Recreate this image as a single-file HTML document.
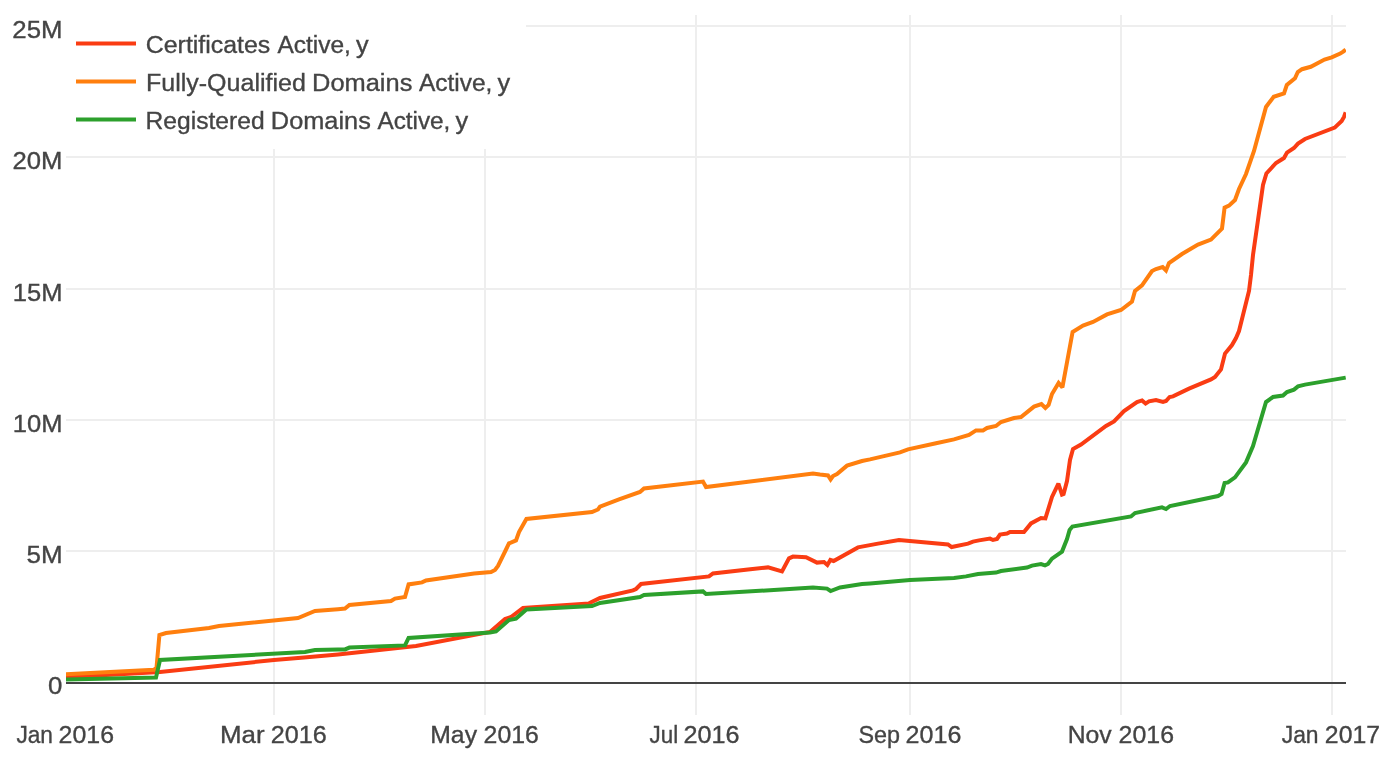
<!DOCTYPE html>
<html><head><meta charset="utf-8"><title>Let's Encrypt growth</title>
<style>html,body{margin:0;padding:0;background:#fff}svg{display:block}</style></head>
<body>
<svg width="1391" height="777" viewBox="0 0 1391 777">
<defs><clipPath id="plot"><rect x="66" y="15" width="1280" height="700"/></clipPath></defs>
<rect width="1391" height="777" fill="#fff"/>
<g stroke="#eeeeee" stroke-width="2" fill="none">
<path d="M274,15V715"/>
<path d="M485,15V715"/>
<path d="M696,15V715"/>
<path d="M910,15V715"/>
<path d="M1121,15V715"/>
<path d="M1332,15V715"/>
<path d="M66,26H1346"/>
<path d="M66,157H1346"/>
<path d="M66,289H1346"/>
<path d="M66,420H1346"/>
<path d="M66,551H1346"/>
</g>
<path d="M66,683H1346" stroke="#444" stroke-width="2" fill="none"/>
<g clip-path="url(#plot)" fill="none" stroke-width="4" stroke-linejoin="miter" stroke-miterlimit="2">
<polyline stroke="#FA3C13" points="66.0,677.3 160.0,672.0 274.0,660.0 304.0,657.6 338.0,654.4 416.0,646.0 490.0,632.0 505.0,619.0 511.0,617.0 523.0,608.0 589.0,603.4 600.0,598.0 633.0,590.4 636.0,589.0 641.0,584.0 709.0,576.4 713.0,573.4 748.0,569.6 768.0,567.4 782.0,571.4 789.0,558.4 793.0,556.6 806.0,557.2 817.0,562.6 824.0,562.0 827.4,565.0 830.4,560.0 833.6,561.0 858.0,547.4 878.0,543.6 899.0,540.0 948.0,544.4 951.6,547.0 968.0,543.6 973.0,541.6 979.0,540.4 990.0,538.6 993.0,540.0 997.0,539.0 1000.0,534.6 1007.0,533.6 1010.0,532.0 1024.0,532.0 1031.0,523.4 1041.0,518.0 1045.4,518.4 1052.0,497.0 1058.4,483.6 1062.0,494.6 1063.6,494.0 1067.0,481.0 1070.0,460.0 1073.0,449.0 1081.0,444.5 1106.0,426.0 1114.0,421.4 1124.0,411.0 1137.0,402.0 1142.0,400.4 1145.6,403.6 1149.0,401.4 1156.0,400.0 1163.0,402.0 1166.0,401.0 1169.6,397.0 1173.0,396.4 1189.0,388.6 1211.0,379.4 1215.0,377.0 1221.0,369.4 1225.0,353.6 1232.0,345.0 1236.0,338.0 1239.0,331.0 1249.0,291.0 1251.0,275.0 1253.0,255.0 1258.0,220.0 1263.0,185.0 1266.4,173.4 1276.0,163.0 1284.0,158.0 1287.0,152.6 1294.0,148.0 1298.0,143.6 1305.0,139.0 1334.7,127.6 1341.7,121.0 1344.0,117.0 1345.7,112.3"/>
<polyline stroke="#FF7F0E" points="66.0,674.2 154.0,669.7 156.5,668.0 159.4,635.0 166.0,633.0 209.0,628.0 219.0,626.0 298.0,618.0 315.0,611.0 338.0,609.2 345.0,608.6 349.4,605.0 391.0,601.0 395.0,598.6 405.0,597.0 408.6,584.4 422.0,582.4 426.0,580.4 474.0,573.6 491.0,572.0 495.0,570.0 498.0,566.0 509.0,543.4 516.0,540.4 519.0,532.0 526.4,519.0 592.0,512.0 598.0,509.5 600.0,506.6 619.0,499.4 640.0,492.0 644.0,488.4 703.0,481.6 706.0,487.0 813.0,473.6 820.0,474.6 828.0,475.4 830.6,479.4 833.0,476.0 837.0,474.0 847.0,465.6 862.0,461.0 870.0,459.4 900.0,452.4 908.0,449.4 936.0,443.3 954.0,439.4 969.0,435.0 976.0,430.4 983.0,430.4 987.0,428.0 996.0,426.0 1001.0,422.0 1014.0,418.0 1021.0,417.0 1034.0,406.6 1041.4,404.0 1045.4,408.0 1048.6,405.0 1052.0,394.0 1058.6,383.0 1062.4,387.4 1072.6,332.0 1083.0,325.6 1093.0,322.0 1107.0,314.4 1121.0,310.0 1132.0,301.6 1135.0,291.0 1142.0,285.4 1152.0,271.0 1156.0,269.0 1162.6,267.0 1166.0,270.4 1169.0,263.0 1182.0,254.0 1198.0,244.6 1211.0,239.6 1222.0,228.6 1224.6,207.6 1229.0,205.6 1235.0,200.0 1239.0,189.0 1246.0,174.0 1254.0,151.0 1266.0,107.0 1273.7,96.8 1284.0,93.3 1286.8,85.0 1295.0,78.2 1297.8,72.0 1302.0,69.2 1310.8,66.8 1324.5,59.6 1331.7,57.3 1340.2,53.6 1343.2,51.6 1345.7,49.6"/>
<polyline stroke="#2CA02C" points="66.0,679.4 156.0,677.6 160.0,660.0 305.0,652.0 315.0,650.0 338.0,649.6 345.0,649.4 349.4,647.6 405.0,645.4 408.6,638.0 490.0,632.4 496.0,631.4 509.0,620.0 516.0,618.6 526.4,609.4 592.0,606.0 600.0,603.0 640.0,597.0 644.0,595.0 703.0,591.4 706.0,594.0 813.0,587.6 827.0,588.6 830.6,591.0 840.0,587.4 862.0,584.0 870.0,583.4 910.0,580.0 954.0,578.0 966.0,576.4 978.0,574.0 996.0,572.6 1001.0,571.0 1027.0,567.6 1032.0,565.6 1041.0,564.0 1045.0,565.4 1048.0,564.0 1052.0,558.6 1062.0,551.6 1067.0,539.0 1069.6,530.0 1072.4,526.6 1131.0,516.4 1135.0,513.0 1162.0,507.4 1166.0,509.0 1170.0,506.0 1218.0,496.0 1221.6,494.0 1224.6,483.0 1228.0,482.4 1235.0,477.4 1246.0,462.4 1253.0,446.0 1266.0,402.0 1273.0,397.0 1283.0,395.6 1287.0,392.0 1294.0,389.6 1298.0,386.4 1305.0,384.6 1345.7,377.6"/>
</g>
<rect x="64" y="13" width="462" height="136" fill="#fff"/>
<g stroke-width="4" fill="none">
<path d="M76,43.4H136" stroke="#FA3C13"/>
<path d="M76,81.4H136" stroke="#FF7F0E"/>
<path d="M76,119.4H136" stroke="#2CA02C"/>
</g>
<g font-family="'Liberation Sans', sans-serif" font-size="24.7" fill="#444" stroke="#444" stroke-width="0.35">
<text x="145.80" y="52.7" textLength="124.48" lengthAdjust="spacingAndGlyphs">Certificates</text>
<text x="277.49" y="52.7" textLength="73.43" lengthAdjust="spacingAndGlyphs">Active,</text>
<text x="355.92" y="52.7" textLength="12.61" lengthAdjust="spacingAndGlyphs">y</text>
<text x="145.95" y="90.8" textLength="159.97" lengthAdjust="spacingAndGlyphs">Fully-Qualified</text>
<text x="312.02" y="90.8" textLength="100.35" lengthAdjust="spacingAndGlyphs">Domains</text>
<text x="418.95" y="90.8" textLength="73.46" lengthAdjust="spacingAndGlyphs">Active,</text>
<text x="497.48" y="90.8" textLength="12.64" lengthAdjust="spacingAndGlyphs">y</text>
<text x="145.56" y="128.9" textLength="119.12" lengthAdjust="spacingAndGlyphs">Registered</text>
<text x="270.85" y="128.9" textLength="99.96" lengthAdjust="spacingAndGlyphs">Domains</text>
<text x="377.45" y="128.9" textLength="72.90" lengthAdjust="spacingAndGlyphs">Active,</text>
<text x="455.48" y="128.9" textLength="12.64" lengthAdjust="spacingAndGlyphs">y</text>
<text x="12.39" y="37.7" textLength="50.16" lengthAdjust="spacingAndGlyphs">25M</text>
<text x="12.42" y="168.7" textLength="49.95" lengthAdjust="spacingAndGlyphs">20M</text>
<text x="12.75" y="300.7" textLength="49.71" lengthAdjust="spacingAndGlyphs">15M</text>
<text x="12.75" y="431.7" textLength="49.71" lengthAdjust="spacingAndGlyphs">10M</text>
<text x="26.54" y="562.7" textLength="36.09" lengthAdjust="spacingAndGlyphs">5M</text>
<text x="48.08" y="694.0" textLength="14.36" lengthAdjust="spacingAndGlyphs">0</text>
<text x="16.39" y="742.6" textLength="36.64" lengthAdjust="spacingAndGlyphs">Jan</text>
<text x="58.61" y="742.6" textLength="55.43" lengthAdjust="spacingAndGlyphs">2016</text>
<text x="220.04" y="742.6" textLength="44.64" lengthAdjust="spacingAndGlyphs">Mar</text>
<text x="270.78" y="742.6" textLength="56.00" lengthAdjust="spacingAndGlyphs">2016</text>
<text x="430.25" y="742.6" textLength="46.75" lengthAdjust="spacingAndGlyphs">May</text>
<text x="483.64" y="742.6" textLength="55.25" lengthAdjust="spacingAndGlyphs">2016</text>
<text x="649.53" y="742.6" textLength="28.58" lengthAdjust="spacingAndGlyphs">Jul</text>
<text x="683.49" y="742.6" textLength="56.05" lengthAdjust="spacingAndGlyphs">2016</text>
<text x="858.41" y="742.6" textLength="41.53" lengthAdjust="spacingAndGlyphs">Sep</text>
<text x="905.58" y="742.6" textLength="55.74" lengthAdjust="spacingAndGlyphs">2016</text>
<text x="1067.66" y="742.6" textLength="44.04" lengthAdjust="spacingAndGlyphs">Nov</text>
<text x="1118.61" y="742.6" textLength="55.43" lengthAdjust="spacingAndGlyphs">2016</text>
<text x="1281.68" y="742.6" textLength="36.94" lengthAdjust="spacingAndGlyphs">Jan</text>
<text x="1324.86" y="742.6" textLength="55.16" lengthAdjust="spacingAndGlyphs">2017</text>
</g>
</svg>
</body></html>
